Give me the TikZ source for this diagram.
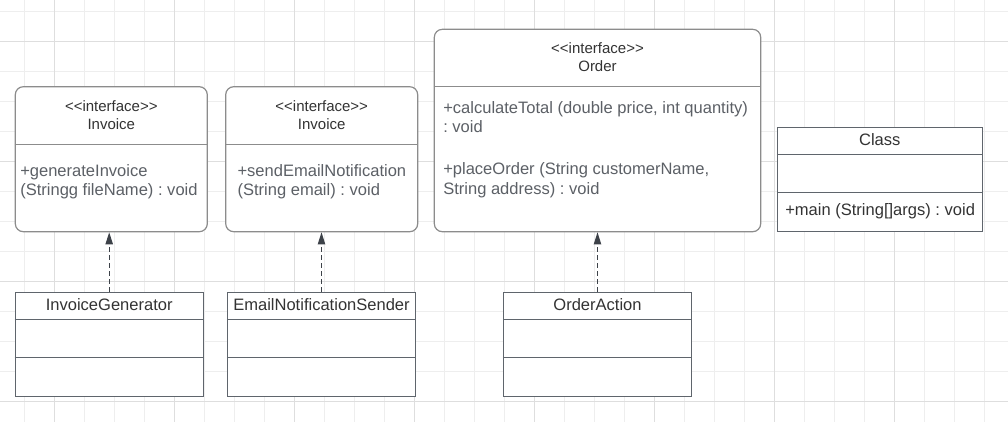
\documentclass[tikz,border=0pt]{standalone}
\usepackage{fontspec}
\setmainfont{Liberation Sans}
\frenchspacing
\usetikzlibrary{arrows.meta,calc}
\definecolor{gridminor}{HTML}{EEEEEE}
\definecolor{gridmajor}{HTML}{DEDEDE}
\definecolor{ifaceline}{HTML}{8C8C8C}
\definecolor{classline}{HTML}{5F656C}
\definecolor{titletext}{HTML}{333333}
\definecolor{methodtext}{HTML}{5C6066}
\definecolor{arrowdark}{HTML}{3D4249}
\newcommand{\stereo}{<\kern0pt<interface>\kern0pt>}
\tikzset{
  ifacebox/.style={draw=ifaceline,line width=0.9pt,rounded corners=6pt,inner sep=0pt,fill=white},
  classbox/.style={draw=classline,line width=0.8pt,inner sep=0pt,fill=white},
  ifacetitle/.style={titletext,font=\fontsize{11.25}{13}\selectfont,anchor=base,inner sep=0pt},
  classtitle/.style={titletext,font=\fontsize{12.4}{14}\selectfont,anchor=base,inner sep=0pt},
  methodline/.style={methodtext,font=\fontsize{12.4}{14}\selectfont,anchor=base west,inner sep=0pt},
  realizes/.style={arrowdark,line width=0.75pt,dash pattern=on 3.75pt off 2.25pt,
    -{Triangle[length=9pt,width=5.5pt]}}
}

\begin{document}
\begin{tikzpicture}[x=0.75pt,y=-0.75pt]
  \useasboundingbox (0,0) rectangle (1008,422);
  % background grid
  \foreach \i in {0,...,32}
    \draw[gridminor,line width=0.75pt] ({24.3+30*\i},0) -- ({24.3+30*\i},422);
  \foreach \i in {0,...,13}
    \draw[gridminor,line width=0.75pt] (0,{11.7+30*\i}) -- (1008,{11.7+30*\i});
  \foreach \i in {0,...,7}
    \draw[gridmajor,line width=0.75pt] ({54.3+120*\i},0) -- ({54.3+120*\i},422);
  \foreach \i in {0,...,3}
    \draw[gridmajor,line width=0.75pt] (0,{41.7+120*\i}) -- (1008,{41.7+120*\i});

  % interfaces
  \node[ifacebox,minimum width=192*0.75pt,minimum height=145*0.75pt] (inv) at (111.3,159.2) {};
  \node[ifacebox,minimum width=192*0.75pt,minimum height=145*0.75pt] (mail) at (321.7,159.2) {};
  \node[ifacebox,minimum width=326.4*0.75pt,minimum height=202.4*0.75pt] (ord) at (597.5,130.5) {};
  \draw[ifaceline,line width=0.9pt] (inv.west |- 0,144.3) -- (inv.east |- 0,144.3);
  \draw[ifaceline,line width=0.9pt] (mail.west |- 0,144.3) -- (mail.east |- 0,144.3);
  \draw[ifaceline,line width=0.9pt] (ord.west |- 0,86.7) -- (ord.east |- 0,86.7);

  \node[ifacetitle] (invst) at (111.3,111) {\stereo};
  \node[ifacetitle] (invname) at (111.3,129.5) {Invoice};
  \node[ifacetitle] (mailst) at (321.7,111) {\stereo};
  \node[ifacetitle] (mailname) at (321.7,129.5) {Invoice};
  \node[ifacetitle] (ordst) at (597.5,53.5) {\stereo};
  \node[ifacetitle] (ordname) at (597.5,71.7) {Order};

  \node[methodline] (invm1) at (20,176.7) {+generateInvoice};
  \node[methodline] (invm2) at (20,195.7) {(Stringg fileName) : void};
  \node[methodline] (mailm1) at (237.3,176.7) {+sendEmailNotification};
  \node[methodline] (mailm2) at (237.3,195.7) {(String email) : void};
  \node[methodline] (ordm1) at (443,113.4) {+calculateTotal (double price, int quantity)};
  \node[methodline] (ordm2) at (443,132.4) {: void};
  \node[methodline] (ordm3) at (443,174) {+placeOrder (String customerName,};
  \node[methodline] (ordm4) at (443,194) {String address) : void};

  % classes
  \node[classbox,minimum width=205*0.75pt,minimum height=103.7*0.75pt] (main) at (879.8,179.2) {};
  \node[classbox,minimum width=188.3*0.75pt,minimum height=103.7*0.75pt] (gen) at (109.2,344.2) {};
  \node[classbox,minimum width=188.4*0.75pt,minimum height=103.7*0.75pt] (send) at (321.5,344.2) {};
  \node[classbox,minimum width=188.4*0.75pt,minimum height=103.7*0.75pt] (act) at (597.5,344.2) {};
  \foreach \n in {main,gen,send,act} {
    \draw[classline,line width=0.8pt] ($(\n.north west)+(0,27.7)$) -- ($(\n.north east)+(0,27.7)$);
    \draw[classline,line width=0.8pt] ($(\n.north west)+(0,66)$) -- ($(\n.north east)+(0,66)$);
  }
  \node[classtitle] (mainname) at (879.8,145.7) {Class};
  \node[methodline,titletext] (mainm1) at (785,215.7) {+main (String[]args) : void};
  \node[classtitle] (genname) at (109.2,310.7) {InvoiceGenerator};
  \node[classtitle] (sendname) at (321.5,310.7) {EmailNotificationSender};
  \node[classtitle] (actname) at (597.5,310.7) {OrderAction};

  % realizations
  \draw[realizes] (gen.north) -- (gen.north |- inv.south);
  \draw[realizes] (send.north) -- (send.north |- mail.south);
  \draw[realizes] (act.north) -- (act.north |- ord.south);
\end{tikzpicture}
\end{document}
